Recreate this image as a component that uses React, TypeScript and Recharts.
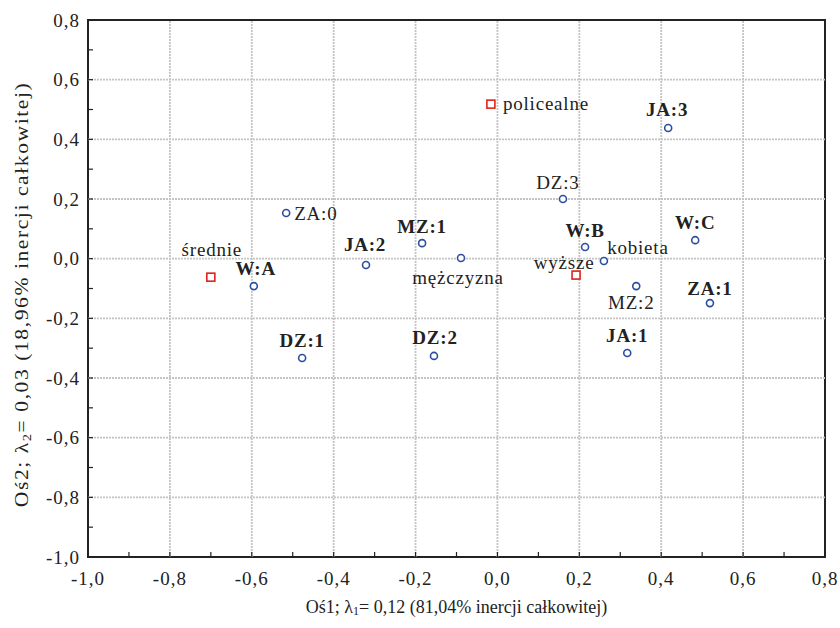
import React from 'react';
import {
  ScatterChart,
  Scatter,
  XAxis,
  YAxis,
  ReferenceLine,
  ReferenceArea,
} from 'recharts';

// row points (blue circles)
const rowLabels = ['ZA:0', 'W:A', 'JA:2', 'MZ:1', 'mężczyzna', 'DZ:1', 'DZ:2', 'DZ:3', 'JA:3', 'W:B', 'kobieta', 'W:C', 'MZ:2', 'ZA:1', 'JA:1'];
const rowX = [-0.516, -0.595, -0.321, -0.184, -0.089, -0.477, -0.155, 0.160, 0.417, 0.214, 0.260, 0.483, 0.339, 0.519, 0.317];
const rowY = [0.153, -0.092, -0.021, 0.052, 0.002, -0.333, -0.326, 0.200, 0.438, 0.039, -0.008, 0.062, -0.092, -0.149, -0.316];

// column points (red squares)
const colLabels = ['średnie', 'policealne', 'wyższe'];
const colX = [-0.700, -0.016, 0.192];
const colY = [-0.062, 0.518, -0.055];

const axisTicks = [-1.0, -0.9, -0.8, -0.7, -0.6, -0.5, -0.4, -0.3, -0.2, -0.1, 0.0, 0.1, 0.2, 0.3, 0.4, 0.5, 0.6, 0.7, 0.8];
const gridValues = [-0.8, -0.6, -0.4, -0.2, 0.0, 0.2, 0.4, 0.6];

const boldLabels = ['W:A', 'JA:2', 'MZ:1', 'DZ:1', 'DZ:2', 'JA:3', 'W:B', 'W:C', 'ZA:1', 'JA:1'];

// label placement relative to the marker: [dx, dy, anchor]
const labelPlacement: Record<string, [number, number, string]> = {
  'ZA:0': [8, 0, 'start'],
  'W:A': [2, -18, 'middle'],
  'średnie': [1, -28, 'middle'],
  'JA:2': [-1, -20, 'middle'],
  'MZ:1': [0, -17, 'middle'],
  'mężczyzna': [-3, 19, 'middle'],
  'DZ:1': [0, -18, 'middle'],
  'DZ:2': [1, -18, 'middle'],
  'policealne': [12, -1, 'start'],
  'JA:3': [-1, -18, 'middle'],
  'DZ:3': [-5, -17, 'middle'],
  'W:B': [0, -17, 'middle'],
  'kobieta': [34, -14, 'middle'],
  'wyższe': [-12, -13, 'middle'],
  'W:C': [0, -18, 'middle'],
  'MZ:2': [-5, 16, 'middle'],
  'ZA:1': [0, -15, 'middle'],
  'JA:1': [0, -17, 'middle'],
};

const rowData = rowLabels.map((name, i) => ({ name, x: rowX[i], y: rowY[i] }));
const colData = colLabels.map((name, i) => ({ name, x: colX[i], y: colY[i] }));

const FONT = '"Liberation Serif", "DejaVu Serif", serif';
const TEXT = '#222';

const fmt = (v: number) => v.toFixed(1).replace('.', ',');
const isMajor = (v: number) => Math.round(v * 10) % 2 === 0;

function PointLabel({ cx, cy, name }: { cx: number; cy: number; name: string }) {
  const [dx, dy, anchor] = labelPlacement[name] || [0, -16, 'middle'];
  return (
    <text
      x={cx + dx}
      y={cy + dy}
      textAnchor={anchor as any}
      dominantBaseline="central"
      fontSize={19}
      letterSpacing={0.8}
      fontFamily={FONT}
      fontWeight={boldLabels.includes(name) ? 700 : 400}
      fill={TEXT}
    >
      {name}
    </text>
  );
}

const CircleShape = (props: any) => {
  const { cx, cy, payload } = props;
  return (
    <g>
      <circle cx={cx} cy={cy} r={3.5} fill="#fff" stroke="#2b4ea3" strokeWidth={1.6} />
      <PointLabel cx={cx} cy={cy} name={payload.name} />
    </g>
  );
};

const SquareShape = (props: any) => {
  const { cx, cy, payload } = props;
  return (
    <g>
      <rect x={cx - 4} y={cy - 4} width={8} height={8} fill="#fff" stroke="#e0211d" strokeWidth={1.6} />
      <PointLabel cx={cx} cy={cy} name={payload.name} />
    </g>
  );
};

const XTick = (props: any) => {
  const { x, y, payload } = props;
  const v = payload.value;
  return (
    <g>
      <line x1={x} y1={y} x2={x} y2={y - 5} stroke="#222" strokeWidth={1.2} />
      {isMajor(v) && (
        <text x={x} y={y + 21} textAnchor="middle" dominantBaseline="central" fontSize={19} letterSpacing={1} fontFamily={FONT} fill={TEXT}>
          {fmt(v)}
        </text>
      )}
    </g>
  );
};

const YTick = (props: any) => {
  const { x, y, payload } = props;
  const v = payload.value;
  return (
    <g>
      <line x1={x} y1={y} x2={x + 5} y2={y} stroke="#222" strokeWidth={1.2} />
      {isMajor(v) && (
        <text x={x - 8} y={y} textAnchor="end" dominantBaseline="central" fontSize={19} letterSpacing={1} fontFamily={FONT} fill={TEXT}>
          {fmt(v)}
        </text>
      )}
    </g>
  );
};

const XTitle = (props: any) => {
  const { viewBox } = props;
  const cx = viewBox.x + viewBox.width / 2;
  return (
    <text x={cx} y={viewBox.y + 50} textAnchor="middle" dominantBaseline="central" fontSize={18} fontFamily={FONT} fill={TEXT}>
      Oś1; λ<tspan fontSize={12} dy={4}>1</tspan>
      <tspan dy={-4}>= 0,12 (81,04% inercji całkowitej)</tspan>
    </text>
  );
};

const YTitle = (props: any) => {
  const { viewBox } = props;
  const cx = 22;
  const cy = viewBox.y + viewBox.height / 2 + 6;
  return (
    <text
      x={0}
      y={0}
      transform={`translate(${cx} ${cy}) rotate(-90) scale(1.2 1)`}
      textAnchor="middle"
      dominantBaseline="central"
      fontSize={18}
      letterSpacing={1.3}
      fontFamily={FONT}
      fill={TEXT}
    >
      Oś2; λ<tspan fontSize={12} dy={4}>2</tspan>
      <tspan dy={-4}>= 0,03 (18,96% inercji całkowitej)</tspan>
    </text>
  );
};

export default function App() {
  return (
    <div style={{ position: 'absolute', left: 0, top: 0, width: 840, height: 628, background: '#fff' }}>
      <ScatterChart width={840} height={628} margin={{ top: 20, right: 15, bottom: 0, left: 0 }} style={{ fontFamily: FONT }}>
        <XAxis
          type="number"
          dataKey="x"
          domain={[-1, 0.8]}
          ticks={axisTicks}
          interval={0}
          allowDataOverflow
          height={71}
          axisLine={false}
          tickLine={false}
          tickSize={0}
          tickMargin={0}
          tick={<XTick />}
          label={{ content: <XTitle /> }}
        />
        <YAxis
          type="number"
          dataKey="y"
          domain={[-1, 0.8]}
          ticks={axisTicks}
          interval={0}
          allowDataOverflow
          width={88}
          axisLine={false}
          tickLine={false}
          tickSize={0}
          tickMargin={0}
          tick={<YTick />}
          label={{ content: <YTitle /> }}
        />
        {gridValues.map((v) => (
          <ReferenceLine key={`gx${v}`} x={v} stroke="#c4c4c4" strokeWidth={1.8} strokeDasharray="2 1" />
        ))}
        {gridValues.map((v) => (
          <ReferenceLine key={`gy${v}`} y={v} stroke="#c4c4c4" strokeWidth={1.8} strokeDasharray="2 1" />
        ))}
        <ReferenceArea x1={-1} x2={0.8} y1={-1} y2={0.8} fill="none" stroke="#222" strokeWidth={2} />
        <Scatter data={rowData} shape={<CircleShape />} isAnimationActive={false} />
        <Scatter data={colData} shape={<SquareShape />} isAnimationActive={false} />
      </ScatterChart>
    </div>
  );
}
